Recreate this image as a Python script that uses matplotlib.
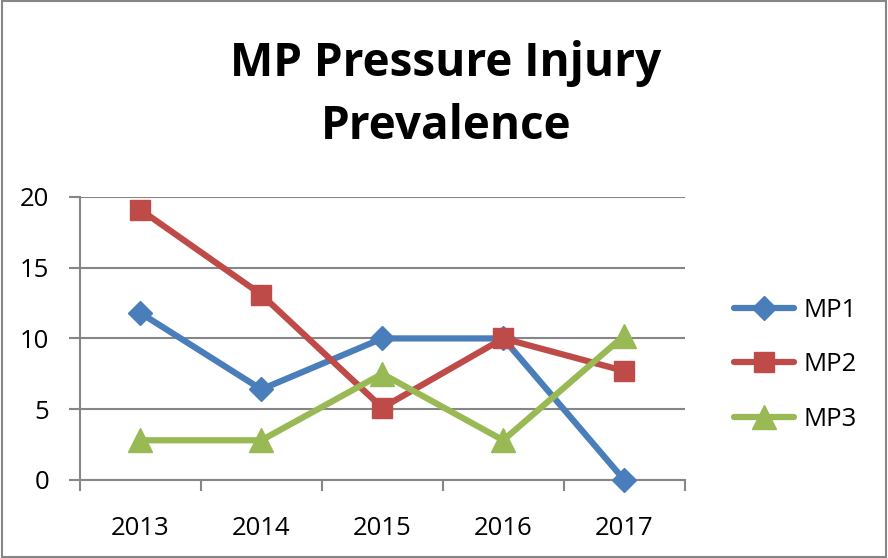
import matplotlib
matplotlib.use("Agg")
import matplotlib.pyplot as plt
from matplotlib.patches import Rectangle
import numpy as np

years = ["2013", "2014", "2015", "2016", "2017"]
mp1 = [11.8, 6.4, 10.0, 10.0, 0.0]
mp2 = [19.1, 13.1, 5.1, 10.0, 7.7]
mp3 = [2.8, 2.8, 7.5, 2.8, 10.2]
series_names = ["MP1", "MP2", "MP3"]
yticks = [0, 5, 10, 15, 20]

plt.rcParams['font.family'] = ['Open Sans', 'DejaVu Sans']

fig = plt.figure(figsize=(8.88, 5.58), dpi=100)
fig.patches.append(Rectangle((0.002, 0.002), 0.996, 0.996, transform=fig.transFigure,
                             fill=False, edgecolor='#868686', linewidth=1.5))
ax = fig.add_axes([0.090, 0.140, 0.681, 0.507])

x = np.arange(len(years))
grid_c = '#868686'
ax.plot(x, mp1, color='#4A7EBB', lw=4.5, marker='D', ms=12, label=series_names[0],
        solid_capstyle='round', clip_on=False, zorder=3)
ax.plot(x, mp2, color='#BE4B48', lw=4.5, marker='s', ms=15, label=series_names[1],
        solid_capstyle='round', clip_on=False, zorder=3)
ax.plot(x, mp3, color='#98B954', lw=4.5, marker='^', ms=17, label=series_names[2],
        solid_capstyle='round', clip_on=False, zorder=3)

ax.set_xlim(-0.5, len(years) - 0.5)
ax.set_ylim(0, 20)
ax.set_yticks(yticks)
ax.set_yticklabels([str(v) for v in yticks], fontsize=18.5)
ax.yaxis.grid(True, color=grid_c, lw=1.5)
ax.set_axisbelow(True)
ax.set_xticks(x)
ax.set_xticklabels(years, fontsize=18.5)
ax.set_xticks(np.arange(len(years) + 1) - 0.5, minor=True)
ax.tick_params(axis='x', which='major', length=0, pad=26)
ax.tick_params(axis='x', which='minor', length=8, width=1.5, color=grid_c)
ax.tick_params(axis='y', length=8, width=1.5, color=grid_c, pad=14)
for s in ['top', 'right']:
    ax.spines[s].set_visible(False)
for s in ['left', 'bottom']:
    ax.spines[s].set_color(grid_c)
    ax.spines[s].set_linewidth(1.5)

leg = fig.legend(loc='center left', bbox_to_anchor=(0.801, 0.346), frameon=False,
                 fontsize=18.5, handlelength=2.3, labelspacing=1.15, handletextpad=0.4)

fig.text(0.502, 0.830, "MP Pressure Injury\nPrevalence", ha='center', va='center',
         fontsize=33, fontweight='bold', linespacing=1.45)

fig.savefig("out.png", dpi=100)
